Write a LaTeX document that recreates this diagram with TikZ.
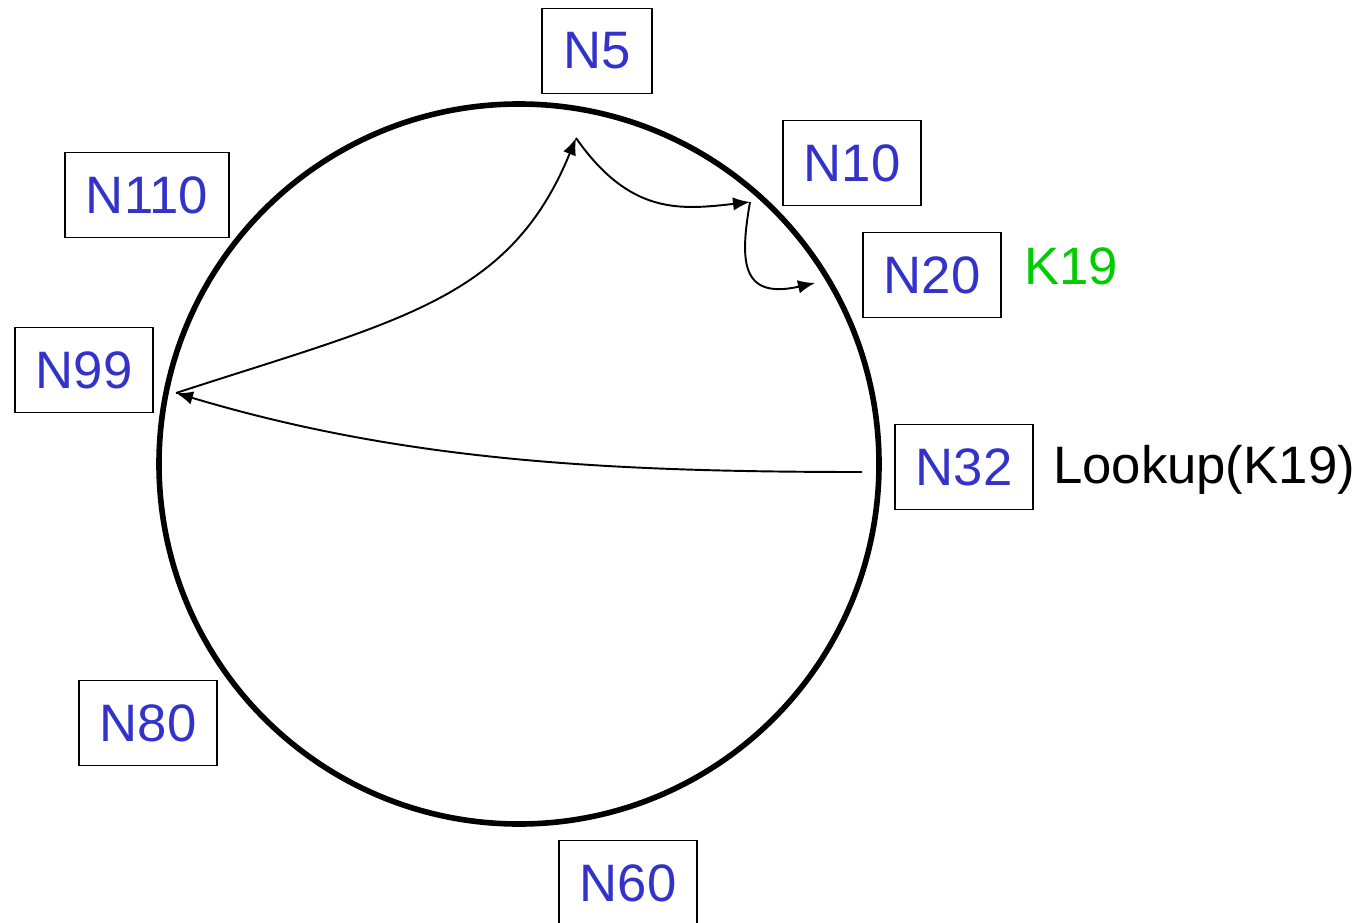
\documentclass[tikz,border=0pt]{standalone}
\usepackage{fontspec}
\setmainfont{Liberation Sans}
\usetikzlibrary{arrows.meta}
\definecolor{nodeblue}{RGB}{51,51,204}
\definecolor{keygreen}{RGB}{0,204,0}
\begin{document}
\begin{tikzpicture}[x=0.02cm,y=-0.02cm]
\fontsize{30}{35}\selectfont
\useasboundingbox (0,0) rectangle (1364,922);
\begin{scope}[-{Latex[length=0.34cm,width=0.27cm]},line width=1.1pt,
              block1/.style={rectangle,draw,line width=1pt,text=nodeblue,
                             inner xsep=0.42cm,minimum height=1.7cm},
              block2/.style={rectangle,align=center}]
    \draw [line width=3.2pt] (519,464) circle (360);
    \node [block1] (5) at (597,51) {N5};
    \node [block1] (10) at (852,163) {N10};
    \node [block1] (20) at (932,275) {N20};
    \node [block1] (32) at (964,467) {N32};
    \node [block1] (60) at (628,883) {N60};
    \node [block1] (80) at (148,723) {N80};
    \node [block1] (99) at (84,370) {N99};
    \node [block1] (110) at (147,195) {N110};
    \node [block2,text=keygreen] (k19) at (1071,266) {K19};
    \node [block2] (lookup) at (1204,470) {Lookup(K19)};
    \coordinate (p32) at (862,472);
    \coordinate (p99) at (176,393);
    \coordinate (p5) at (576,138);
    \coordinate (p10) at (750,202);
    \coordinate (p20) at (815,283);
    \draw (p32) .. controls (600,472) and (400,460) .. (p99);
    \draw (p99) .. controls (400,320) and (510,300) .. (p5);
    \draw (p5) .. controls (630,215) and (680,210) .. (p10);
    \draw (p10) .. controls (740,260) and (740,300) .. (p20);
\end{scope}
\end{tikzpicture}
\end{document}
